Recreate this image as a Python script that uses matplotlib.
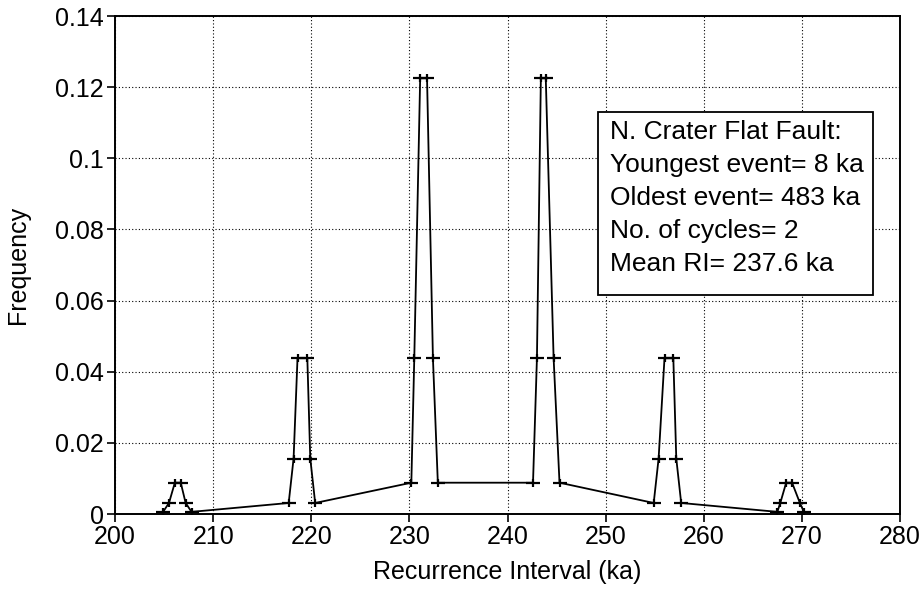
import matplotlib
matplotlib.use("Agg")
import matplotlib.pyplot as plt
from matplotlib.path import Path
from matplotlib.patches import Rectangle

plt.rcParams['font.family'] = ['Liberation Sans', 'DejaVu Sans']

# recurrence interval (ka) and frequency, six clusters of points
interval = [204.9, 205.5, 206.1, 206.7, 207.2, 207.8,
            217.7, 218.2, 218.6, 219.6, 219.9, 220.4,
            230.2, 230.5, 231.1, 231.8, 232.4, 232.9,
            242.6, 243.0, 243.4, 243.9, 244.7, 245.3,
            254.9, 255.4, 256.0, 256.9, 257.2, 257.7,
            267.5, 267.8, 268.4, 269.0, 269.8, 270.2]
frequency = [0.0006, 0.0031, 0.0088, 0.0088, 0.0031, 0.0006,
             0.0031, 0.0156, 0.0438, 0.0438, 0.0156, 0.0031,
             0.0088, 0.0438, 0.1225, 0.1225, 0.0438, 0.0088,
             0.0088, 0.0438, 0.1225, 0.1225, 0.0438, 0.0088,
             0.0031, 0.0156, 0.0438, 0.0438, 0.0156, 0.0031,
             0.0006, 0.0031, 0.0088, 0.0088, 0.0031, 0.0006]

xticks = [200, 210, 220, 230, 240, 250, 260, 270, 280]
yticks = [0, 0.02, 0.04, 0.06, 0.08, 0.1, 0.12, 0.14]

info = ["N. Crater Flat Fault:",
        "Youngest event= 8 ka",
        "Oldest event= 483 ka",
        "No. of cycles= 2",
        "Mean RI= 237.6 ka"]

# wide, flat plus sign
cross = Path([(-1, 0), (1, 0), (0, -0.6), (0, 0.6)],
             [Path.MOVETO, Path.LINETO, Path.MOVETO, Path.LINETO])

fig = plt.figure(figsize=(9.24, 5.90), dpi=100)
ax = fig.add_axes([115/924, 1 - 514/590, 785/924, 498/590])

ax.plot(interval, frequency, color='black', lw=1.3,
        marker=cross, ms=10, mew=1.6, mec='black', zorder=3)

ax.set_xlim(200, 280)
ax.set_ylim(0, 0.14)
ax.set_xticks(xticks)
ax.set_yticks(yticks)
ax.set_yticklabels(['%g' % v for v in yticks])
ax.grid(True, linestyle=(0, (1, 2)), color='black', linewidth=0.8)

for s in ax.spines.values():
    s.set_linewidth(1.4)
ax.tick_params(direction='out', length=6, width=1.2, labelsize=18, pad=2)

ax.set_xlabel('Recurrence Interval (ka)', fontsize=18, labelpad=8)
ax.set_ylabel('Frequency', fontsize=18, labelpad=18)

# text box with fault summary
box = Rectangle((0.615, 0.44), 0.35, 0.367, transform=ax.transAxes,
                facecolor='white', edgecolor='black', lw=1.3, zorder=4)
ax.add_patch(box)
for i, line in enumerate(info):
    ax.text(0.631, 0.768 - i * 0.0665, line, transform=ax.transAxes,
            fontsize=19, ha='left', va='center', zorder=5)

fig.savefig('out.png', dpi=100)
